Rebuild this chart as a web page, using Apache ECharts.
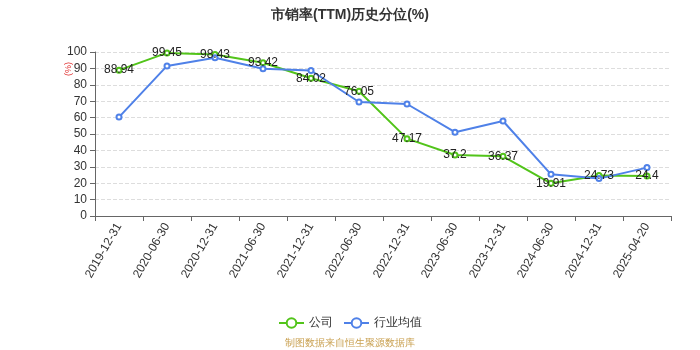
<!DOCTYPE html>
<html>
<head>
<meta charset="utf-8">
<script src="https://cdn.jsdelivr.net/npm/echarts@6/dist/echarts.min.js"></script>
<style>html,body{margin:0;padding:0;background:#fff}#c{width:700px;height:350px}</style>
</head>
<body>
<div id="c"></div>
<script>
var categories = ['2019-12-31','2020-06-30','2020-12-31','2021-06-30','2021-12-31','2022-06-30','2022-12-31','2023-06-30','2023-12-31','2024-06-30','2024-12-31','2025-04-20'];
var companyValues = [88.94, 99.45, 98.43, 93.42, 84.02, 76.05, 47.17, 37.2, 36.37, 19.91, 24.73, 24.4];
var industryValues = [60.3, 91.5, 96.5, 89.8, 88.7, 69.5, 68.3, 51.1, 57.9, 25.4, 22.8, 29.5];
var titleText = '市销率(TTM)历史分位(%)';
var sourceText = '制图数据来自恒生聚源数据库';

var chart = echarts.init(document.getElementById('c'));
chart.setOption({
  animation: false,
  title: {
    text: titleText, left: 'center', top: 3,
    textStyle: {fontSize: 14, fontWeight: 'bold', color: '#333'}
  },
  graphic: [
    {type: 'text', left: 'center', top: 338, style: {text: sourceText, fill: '#c9a050', fontSize: 10}},
    {type: 'text', x: 64, y: 76, rotation: Math.PI/2, style: {text: '(%)', fill: '#e03030', fontSize: 9}}
  ],
  legend: {
    bottom: 16, left: 'center',
    itemWidth: 25, itemHeight: 12, itemGap: 10,
    textStyle: {fontSize: 12, color: '#333'},
    data: ['公司', '行业均值']
  },
  grid: {left: 95, right: 29, top: 52, bottom: 134},
  xAxis: {
    type: 'category', data: categories, boundaryGap: true,
    axisLine: {lineStyle: {color: '#666'}},
    axisTick: {show: true, lineStyle: {color: '#666'}},
    axisLabel: {rotate: 60, fontSize: 12, color: '#333', interval: 0}
  },
  yAxis: {
    type: 'value', min: 0, max: 100, interval: 10,
    axisLine: {show: true, lineStyle: {color: '#666'}},
    axisTick: {show: true, lineStyle: {color: '#666'}},
    axisLabel: {fontSize: 12, color: '#333'},
    splitLine: {lineStyle: {type: 'dashed', color: '#ddd'}}
  },
  series: [
    {
      name: '公司', type: 'line', data: companyValues,
      symbol: 'emptyCircle', symbolSize: 5,
      itemStyle: {color: '#52c41a'}, lineStyle: {color: '#52c41a', width: 2},
      label: {show: true, position: 'inside', color: '#222', fontSize: 12}
    },
    {
      name: '行业均值', type: 'line', data: industryValues,
      symbol: 'emptyCircle', symbolSize: 5,
      itemStyle: {color: '#4f81e8'}, lineStyle: {color: '#4f81e8', width: 2}
    }
  ]
});
</script>
</body>
</html>
